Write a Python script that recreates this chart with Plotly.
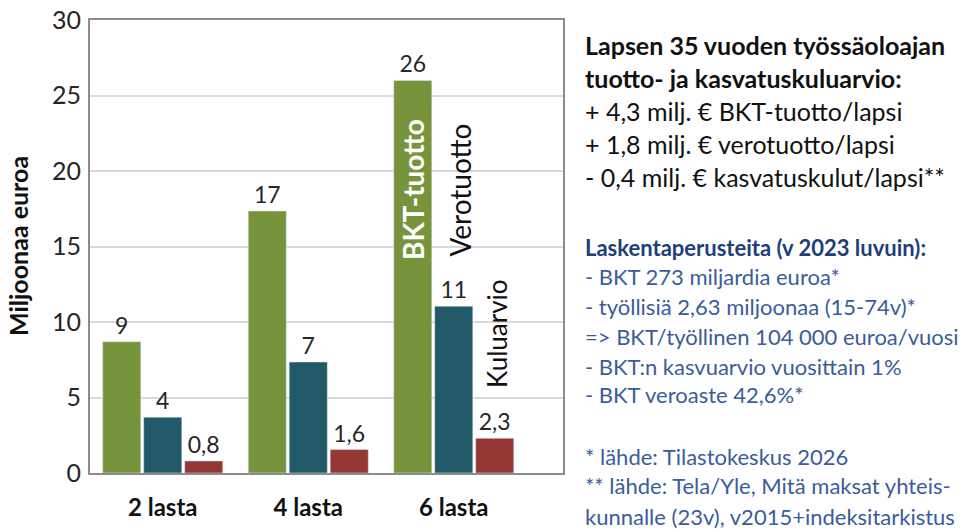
import plotly.graph_objects as go

categories = ["2 lasta", "4 lasta", "6 lasta"]
series_names = ["BKT-tuotto", "Verotuotto", "Kuluarvio"]
bkt_values = [8.7, 17.35, 26.0]
vero_values = [3.7, 7.35, 11.05]
kulu_values = [0.8, 1.55, 2.3]
bkt_labels = ["9", "17", "26"]
vero_labels = ["4", "7", "11"]
kulu_labels = ["0,8", "1,6", "2,3"]
y_ticks = [0, 5, 10, 15, 20, 25, 30]

summary_lines = [
    ("<b>Lapsen 35 vuoden työssäoloajan</b>", 45),
    ("<b>tuotto- ja kasvatuskuluarvio:</b>", 78),
    ("+ 4,3 milj. € BKT-tuotto/lapsi", 111),
    ("+ 1,8 milj. € verotuotto/lapsi", 144),
    ("- 0,4 milj. € kasvatuskulut/lapsi**", 177),
]
basis_lines = [
    ("<b>Laskentaperusteita (v 2023 luvuin):</b>", 247),
    ("- BKT 273 miljardia euroa*", 276),
    ("- työllisiä 2,63 miljoonaa (15-74v)*", 306),
    ("=> BKT/työllinen 104 000 euroa/vuosi", 336),
    ("- BKT:n kasvuarvio vuosittain 1%", 366),
    ("- BKT veroaste 42,6%*", 394),
    ("* lähde: Tilastokeskus 2026", 456),
    ("** lähde: Tela/Yle, Mitä maksat yhteis-", 486),
    ("kunnalle (23v), v2015+indeksitarkistus", 516),
]

FONT = "Lato"
W, H = 974, 529
L, T = 90, 20
R = 974 - 563
B = 529 - 473
plot_h = H - T - B
plot_w = W - L - R

x_pos = list(range(len(categories)))
colors = ["#77933C", "#215968", "#953735"]
values = [bkt_values, vero_values, kulu_values]
labels = [bkt_labels, vero_labels, kulu_labels]

fig = go.Figure()
for name, vals, labs, col in zip(series_names, values, labels, colors):
    fig.add_trace(go.Bar(
        x=x_pos, y=vals, name=name, marker_color=col,
        text=labs, textposition="outside", cliponaxis=False,
        textfont=dict(family=FONT, size=23, color="#262626"),
    ))

def py2paper(py):
    return (H - B - py) / plot_h

def px2paper(px):
    return (px - L) / plot_w

annotations = []
x_text = px2paper(583)
for txt, py in summary_lines:
    annotations.append(dict(text=txt, xref="paper", yref="paper", x=x_text, y=py2paper(py),
                            xanchor="left", yanchor="middle", showarrow=False, align="left",
                            font=dict(family=FONT, size=25, color="#111111")))
for i, (txt, py) in enumerate(basis_lines):
    annotations.append(dict(text=txt, xref="paper", yref="paper", x=x_text, y=py2paper(py),
                            xanchor="left", yanchor="middle", showarrow=False, align="left",
                            font=dict(family=FONT, size=22, color="#203F7A" if i == 0 else "#3A5C9C")))

# y-axis title
annotations.append(dict(text="<b>Miljoonaa euroa</b>", xref="paper", yref="paper",
                        x=px2paper(18), y=py2paper(246), textangle=-90,
                        xanchor="center", yanchor="middle", showarrow=False,
                        font=dict(family=FONT, size=25, color="#111111")))
# series name labels
annotations.append(dict(text="<b>BKT-tuotto</b>", x=1.72, y=18.74, xref="x", yref="y",
                        textangle=-90, showarrow=False, xanchor="center", yanchor="middle",
                        font=dict(family=FONT, size=28, color="white")))
annotations.append(dict(text="Verotuotto", x=2.04, y=18.74, xref="x", yref="y",
                        textangle=-90, showarrow=False, xanchor="center", yanchor="middle",
                        font=dict(family=FONT, size=28, color="#111111")))
annotations.append(dict(text="Kuluarvio", x=2.30, y=9.24, xref="x", yref="y",
                        textangle=-90, showarrow=False, xanchor="center", yanchor="middle",
                        font=dict(family=FONT, size=26, color="#111111")))

fig.update_layout(
    width=W, height=H,
    margin=dict(l=L, r=R, t=T, b=B, autoexpand=False),
    paper_bgcolor="white", plot_bgcolor="white",
    barmode="group", bargap=0.155, bargroupgap=0.07,
    showlegend=False,
    annotations=annotations,
    font=dict(family=FONT),
)
fig.update_xaxes(
    range=[-0.5, -0.5 + plot_w / 145.5],
    tickvals=x_pos, ticktext=categories,
    tickfont=dict(family=FONT, size=24, color="#111111", weight="bold"),
    showline=True, linecolor="#8c8c8c", linewidth=2, mirror=True,
    showgrid=False, ticks="", ticklabelstandoff=12, zeroline=False,
)
fig.update_yaxes(
    range=[0, 30], tickvals=y_ticks,
    tickfont=dict(family=FONT, size=25, color="#262626"),
    showline=True, linecolor="#8c8c8c", linewidth=2, mirror=True,
    showgrid=True, gridcolor="#d9d9d9", gridwidth=2,
    ticks="", ticklabelstandoff=2, zeroline=False,
    ticklabeloverflow="allow",
)

fig.write_html("out.html", config={"displayModeBar": False},
               post_script="document.body.style.margin='0px';")
